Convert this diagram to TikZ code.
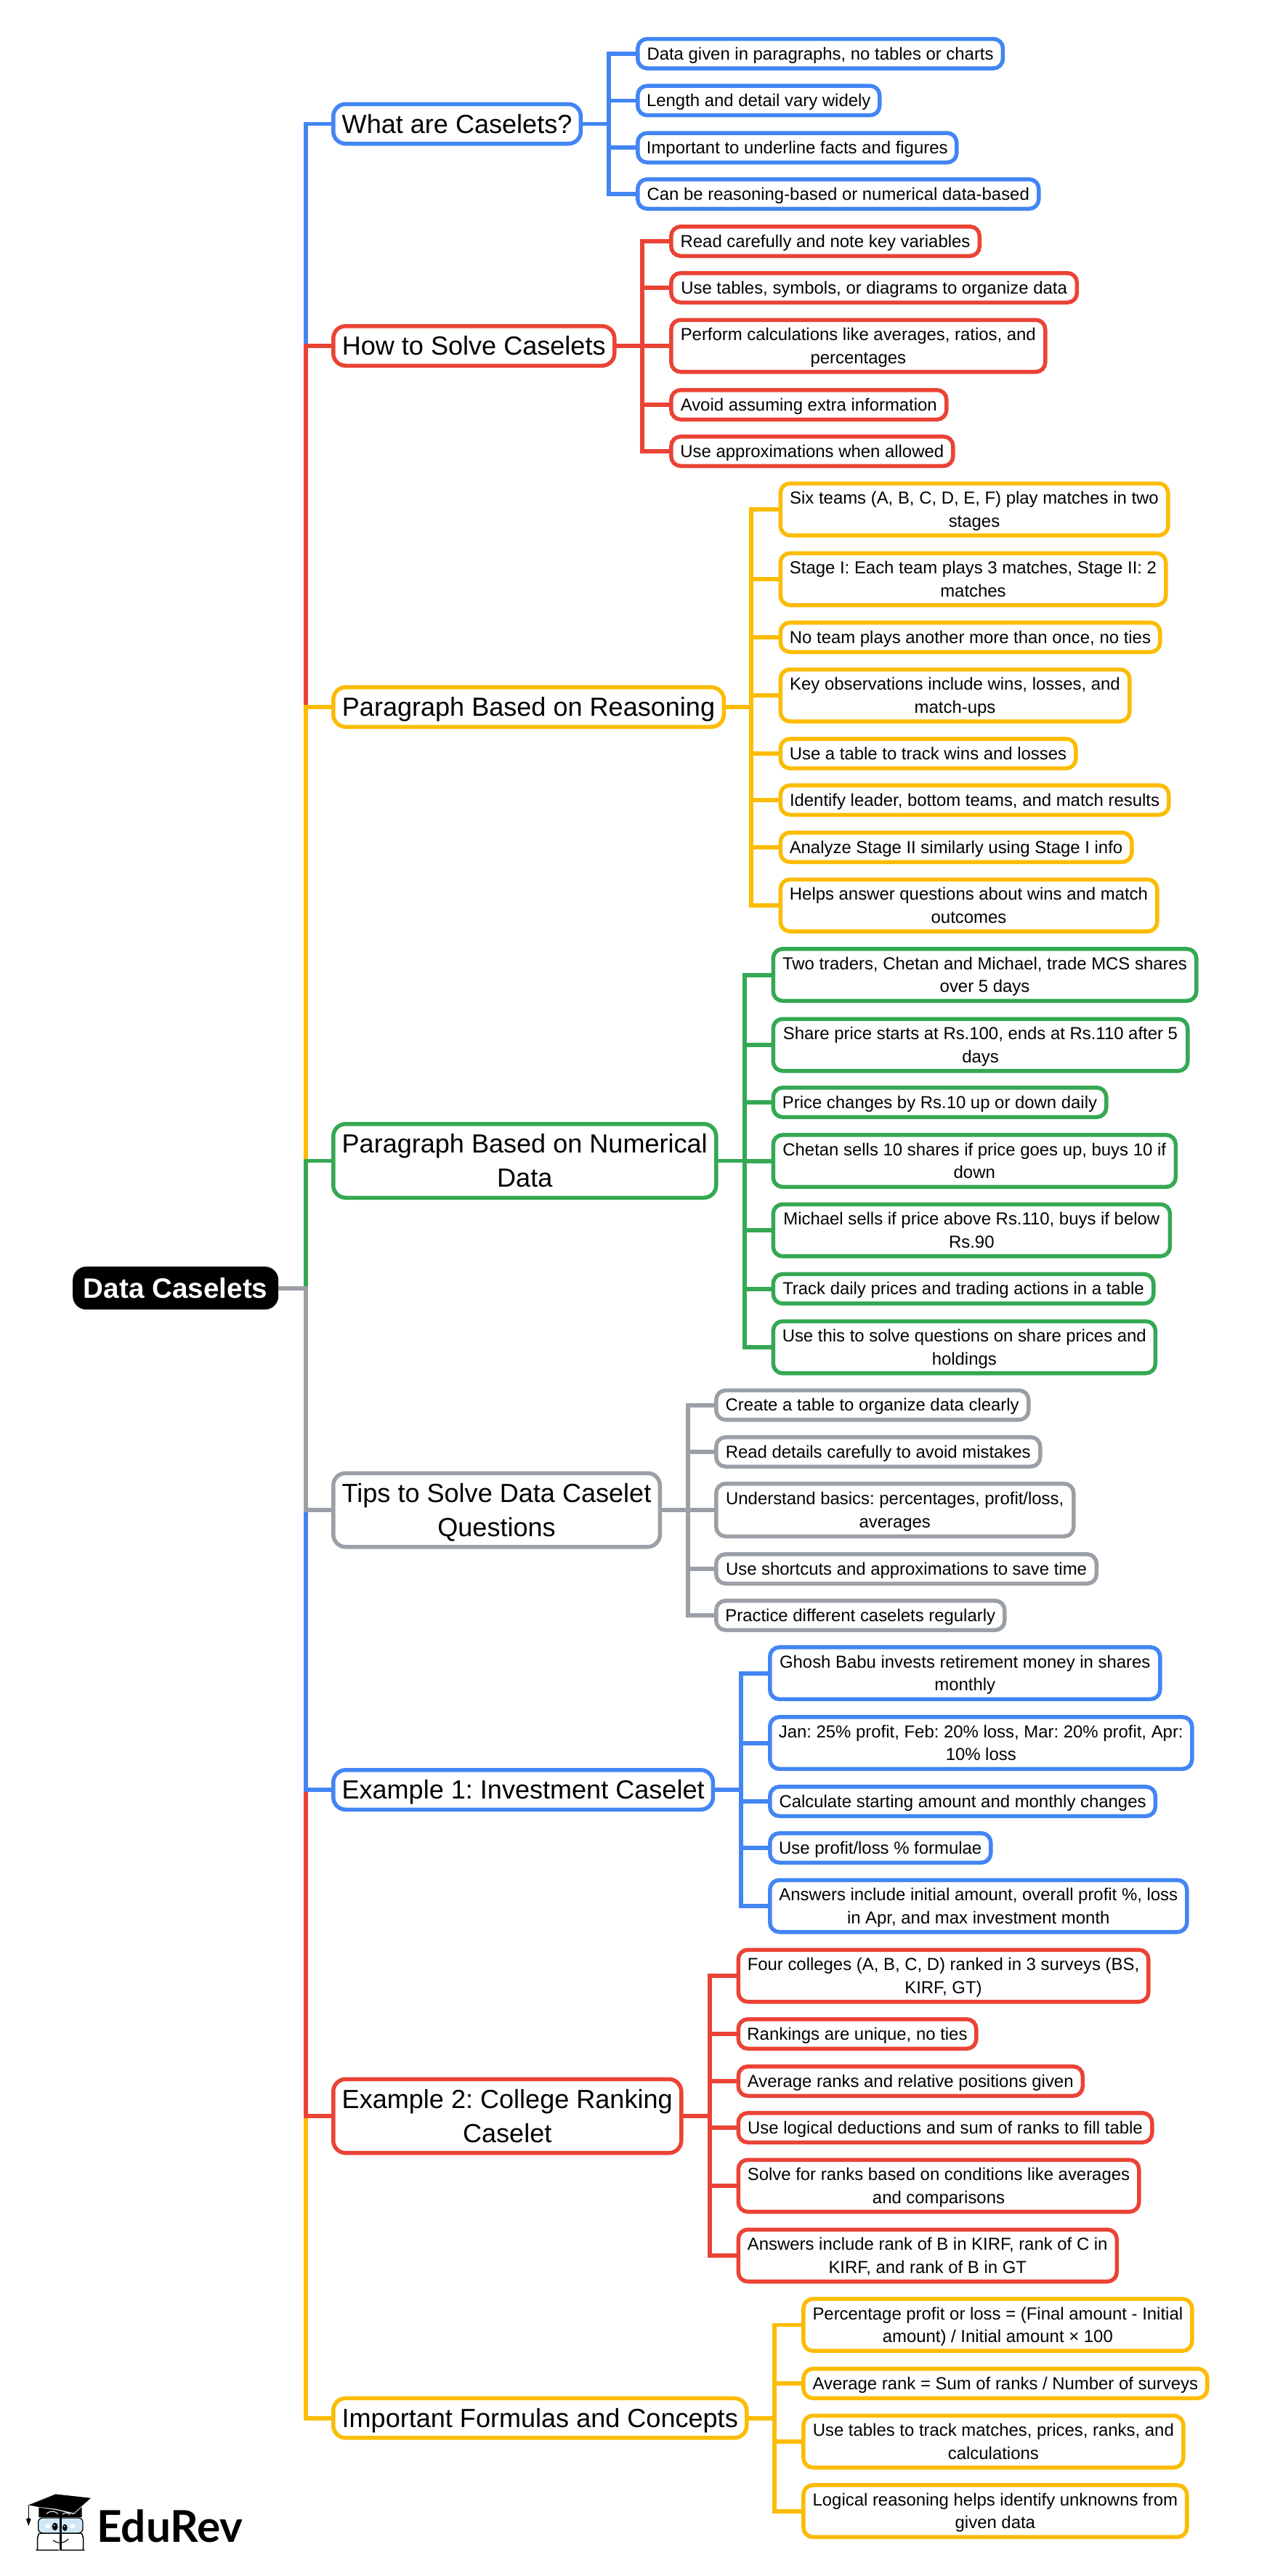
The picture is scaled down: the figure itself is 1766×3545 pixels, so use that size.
\documentclass[tikz,border=0pt]{standalone}
\usepackage{fontspec}
\setmainfont{Liberation Sans}
\newfontfamily\logofont{Lato}
\frenchspacing
\definecolor{gblue}{HTML}{4285F4}
\definecolor{gred}{HTML}{EA4335}
\definecolor{gyellow}{HTML}{FBBC04}
\definecolor{ggreen}{HTML}{34A853}
\definecolor{ggray}{HTML}{9AA0A6}
\definecolor{lface}{HTML}{CFE8F7}
\tikzset{
  basebox/.style={draw,fill=white,line width=5.5bp,inner sep=0pt,outer sep=0pt,align=center,text=black},
  leafbox/.style={basebox,rounded corners=13bp,font=\fontsize{24}{31.4}\selectfont},
  branchbox/.style={basebox,rounded corners=17bp,font=\fontsize{36.2}{47}\selectfont},
  rootbox/.style={draw=black,fill=black,line width=1bp,rounded corners=18bp,inner sep=0pt,outer sep=0pt,text=white,font=\fontsize{38.8}{44}\selectfont\bfseries},
  conn/.style={line width=5.8bp}
}
\newcommand{\balance}[1]{\rule{0pt}{1em}#1\rule[-.3em]{0pt}{0pt}}
% \boxat{style}{colour}{name}{left}{right}{centre y}{height}{text}
\newcommand{\boxat}[8]{%
  \pgfmathsetmacro{\bxw}{#5-#4-2.5}\pgfmathsetmacro{\bxh}{#7-3.5}\pgfmathsetmacro{\bxc}{(#4+#5)/2}%
  \node[#1,draw=#2,minimum width=\bxw bp,minimum height=\bxh bp] (#3) at (\bxc,#6) {\balance{#8}};}
\newcommand{\lf}[7]{\boxat{leafbox}{#1}{#2}{#3}{#4}{#5}{#6}{#7}}
\newcommand{\conn}[4]{\draw[conn,#1] (#2.east) -| (#3 |- #4.west) -- (#4.west);}
\begin{document}
\begin{tikzpicture}[x=1bp,y=-1bp]
\useasboundingbox (0,0) rectangle (1766,3545);
\coordinate (trunk) at (421,1772.6);
\coordinate (spa) at (838,170);
\coordinate (spb) at (884,476);
\coordinate (spc) at (1034,973);
\coordinate (spd) at (1024.6,1597);
\coordinate (spe) at (947,2078);
\coordinate (spf) at (1020,2463);
\coordinate (spg) at (976.6,2912);
\coordinate (sph) at (1066,3327);
% root
\node[rootbox,minimum width=282bp,minimum height=58bp] (root) at (241.7,1772.6) {\balance{Data Caselets}};
% branches
\boxat{branchbox}{gblue}{ba}{457.5}{800.7}{170.5}{58}{What are Caselets?}
\boxat{branchbox}{gred}{bb}{457.5}{847}{476}{58}{How to Solve Caselets}
\boxat{branchbox}{gyellow}{bc}{457.5}{997.6}{973}{58}{Paragraph Based on Reasoning}
\boxat{branchbox}{ggreen}{bd}{457.5}{987}{1597.5}{105}{Paragraph Based on Numerical\\Data}
\boxat{branchbox}{ggray}{be}{457.5}{909.6}{2078}{105}{Tips to Solve Data Caselet\\Questions}
\boxat{branchbox}{gblue}{bf}{457.5}{982.7}{2463}{58}{Example 1: Investment Caselet}
\boxat{branchbox}{gred}{bg}{457.5}{939}{2912}{105}{Example 2: College Ranking\\Caselet}
\boxat{branchbox}{gyellow}{bh}{457.5}{1029}{3327.6}{58}{Important Formulas and Concepts}
% leaves a
\lf{gblue}{a1}{876.5}{1381.7}{73.8}{44}{Data given in paragraphs, no tables or charts}
\lf{gblue}{a2}{876.5}{1212}{138.4}{44}{Length and detail vary widely}
\lf{gblue}{a3}{876.5}{1318}{203.3}{44}{Important to underline facts and figures}
\lf{gblue}{a4}{876.5}{1431}{267}{44}{Can be reasoning-based or numerical data-based}
% leaves b
\lf{gred}{b1}{922.6}{1349.5}{332}{44}{Read carefully and note key variables}
\lf{gred}{b2}{922.6}{1483.6}{396}{44}{Use tables, symbols, or diagrams to organize data}
\lf{gred}{b3}{922.6}{1440}{476}{75}{Perform calculations like averages, ratios, and\\percentages}
\lf{gred}{b4}{922.6}{1304}{557}{44}{Avoid assuming extra information}
\lf{gred}{b5}{922.6}{1313}{621}{44}{Use approximations when allowed}
% leaves c
\lf{gyellow}{c1}{1073}{1609}{701}{75}{Six teams (A, B, C, D, E, F) play matches in two\\stages}
\lf{gyellow}{c2}{1073}{1606}{797}{75}{Stage I: Each team plays 3 matches, Stage II: 2\\matches}
\lf{gyellow}{c3}{1073}{1598}{877}{44}{No team plays another more than once, no ties}
\lf{gyellow}{c4}{1073}{1556}{957}{75}{Key observations include wins, losses, and\\match-ups}
\lf{gyellow}{c5}{1073}{1482}{1037}{44}{Use a table to track wins and losses}
\lf{gyellow}{c6}{1073}{1610}{1101}{44}{Identify leader, bottom teams, and match results}
\lf{gyellow}{c7}{1073}{1559}{1166}{44}{Analyze Stage II similarly using Stage I info}
\lf{gyellow}{c8}{1073}{1594}{1246}{75}{Helps answer questions about wins and match\\outcomes}
% leaves d
\lf{ggreen}{d1}{1063}{1648}{1341.6}{75}{Two traders, Chetan and Michael, trade MCS shares\\over 5 days}
\lf{ggreen}{d2}{1063}{1636}{1438}{75}{Share price starts at Rs.100, ends at Rs.110 after 5\\days}
\lf{ggreen}{d3}{1063}{1524}{1517}{44}{Price changes by Rs.10 up or down daily}
\lf{ggreen}{d4}{1063}{1619.5}{1597.6}{75}{Chetan sells 10 shares if price goes up, buys 10 if\\down}
\lf{ggreen}{d5}{1063}{1611.7}{1693}{75}{Michael sells if price above Rs.110, buys if below\\Rs.90}
\lf{ggreen}{d6}{1063}{1589}{1773.6}{44}{Track daily prices and trading actions in a table}
\lf{ggreen}{d7}{1063}{1591.6}{1854}{75}{Use this to solve questions on share prices and\\holdings}
% leaves e
\lf{ggray}{e1}{984.5}{1417}{1933.6}{44}{Create a table to organize data clearly}
\lf{ggray}{e2}{984.5}{1433}{1998}{44}{Read details carefully to avoid mistakes}
\lf{ggray}{e3}{984.5}{1479}{2078}{76}{Understand basics: percentages, profit/loss,\\averages}
\lf{ggray}{e4}{984.5}{1510.6}{2159}{44}{Use shortcuts and approximations to save time}
\lf{ggray}{e5}{984.5}{1384}{2223}{44}{Practice different caselets regularly}
% leaves f
\lf{gblue}{f1}{1058.5}{1598}{2302.6}{75}{Ghosh Babu invests retirement money in shares\\monthly}
\lf{gblue}{f2}{1058.5}{1642}{2398.6}{75}{Jan: 25\% profit, Feb: 20\% loss, Mar: 20\% profit, Apr:\\10\% loss}
\lf{gblue}{f3}{1058.5}{1591.6}{2479}{44}{Calculate starting amount and monthly changes}
\lf{gblue}{f4}{1058.5}{1365}{2543}{44}{Use profit/loss \% formulae}
\lf{gblue}{f5}{1058.5}{1635}{2623}{75}{Answers include initial amount, overall profit \%, loss\\in Apr, and max investment month}
% leaves g
\lf{gred}{g1}{1015}{1582}{2719}{75}{Four colleges (A, B, C, D) ranked in 3 surveys (BS,\\KIRF, GT)}
\lf{gred}{g2}{1015}{1345}{2799}{44}{Rankings are unique, no ties}
\lf{gred}{g3}{1015}{1491.5}{2864}{44}{Average ranks and relative positions given}
\lf{gred}{g4}{1015}{1587}{2928}{44}{Use logical deductions and sum of ranks to fill table}
\lf{gred}{g5}{1015}{1569}{3008}{75}{Solve for ranks based on conditions like averages\\and comparisons}
\lf{gred}{g6}{1015}{1538.5}{3104}{75}{Answers include rank of B in KIRF, rank of C in\\KIRF, and rank of B in GT}
% leaves h
\lf{gyellow}{h1}{1104.7}{1642}{3199.4}{75}{Percentage profit or loss = (Final amount - Initial\\amount) / Initial amount × 100}
\lf{gyellow}{h2}{1104.7}{1663}{3280}{44}{Average rank = Sum of ranks / Number of surveys}
\lf{gyellow}{h3}{1104.7}{1630}{3360}{75}{Use tables to track matches, prices, ranks, and\\calculations}
\lf{gyellow}{h4}{1104.7}{1635}{3455.7}{75}{Logical reasoning helps identify unknowns from\\given data}
% trunk connectors
\conn{gblue}{root}{trunk}{ba}
\conn{gred}{root}{trunk}{bb}
\conn{gyellow}{root}{trunk}{bc}
\conn{ggreen}{root}{trunk}{bd}
\conn{gyellow}{root}{trunk}{bh}
\conn{gred}{root}{trunk}{bg}
\conn{gblue}{root}{trunk}{bf}
\conn{ggray}{root}{trunk}{be}
% branch connectors
\foreach \c in {a1,a2,a3,a4} {\conn{gblue}{ba}{spa}{\c}}
\foreach \c in {b1,b2,b3,b4,b5} {\conn{gred}{bb}{spb}{\c}}
\foreach \c in {c1,c2,c3,c4,c5,c6,c7,c8} {\conn{gyellow}{bc}{spc}{\c}}
\foreach \c in {d1,d2,d3,d4,d5,d6,d7} {\conn{ggreen}{bd}{spd}{\c}}
\foreach \c in {e1,e2,e3,e4,e5} {\conn{ggray}{be}{spe}{\c}}
\foreach \c in {f1,f2,f3,f4,f5} {\conn{gblue}{bf}{spf}{\c}}
\foreach \c in {g1,g2,g3,g4,g5,g6} {\conn{gred}{bg}{spg}{\c}}
\foreach \c in {h1,h2,h3,h4} {\conn{gyellow}{bh}{sph}{\c}}
% logo
\begin{scope}[shift={(0,3350)},x=0.3333bp,y=-0.3333bp]
  \fill[black] (118,292) -- (230,247) -- (375,263) -- (305,325) -- (230,308) -- (160,300) -- cycle;
  \fill[black] (160,302) -- (230,312) -- (305,330) -- (338,300) -- (338,342) -- (160,342) -- cycle;
  \draw[white,line width=1bp] (192,328) .. controls (205,315) and (225,315) .. (240,328);
  \draw[white,line width=1bp] (258,330) .. controls (268,322) and (280,322) .. (290,332);
  \draw[black,line width=0.9bp] (118,292) -- (118,350);
  \fill[black] (108,350) -- (118,345) -- (128,350) -- (118,378) -- cycle;
  \draw[black,fill=lface,line width=1.3bp,rounded corners=6bp] (158,345) rectangle (342,408);
  \draw[black,line width=1.5bp,rounded corners=6bp] (243,478) -- (170,478) .. controls (155,478) and (155,460) .. (155,445) .. controls (155,430) and (157,420) .. (160,410);
  \draw[black,line width=1.5bp,rounded corners=6bp] (255,478) -- (328,478) .. controls (342,478) and (344,460) .. (344,445) .. controls (344,430) and (342,420) .. (338,410);
  \draw[black,line width=1.5bp] (160,410) -- (340,410);
  \fill[black] (245,340) rectangle (255,480);
  \fill[black] (227,381) ellipse [x radius=12,y radius=16];
  \fill[black] (268,385) ellipse [x radius=10,y radius=14];
  \fill[white] (224,376) circle [radius=3];
  \fill[white] (266,380) circle [radius=3];
  \fill[white] (190,373) rectangle (206,386);
  \fill[white] (292,373) rectangle (310,386);
  \draw[black,line width=1.2bp] (220,437) .. controls (235,452) and (265,452) .. (282,432);
  \node[anchor=base west,inner sep=0pt,font=\logofont\bfseries\fontsize{60.5}{62}\selectfont,text=black] (logo) at (399,445) {EduRev};
\end{scope}
\end{tikzpicture}
\end{document}
